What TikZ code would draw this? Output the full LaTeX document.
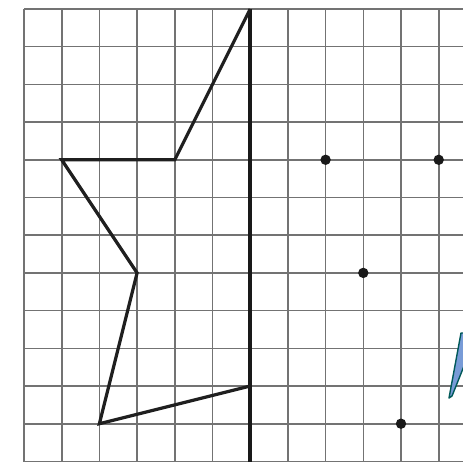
\documentclass[tikz,border=0pt]{standalone}
\begin{document}
\begin{tikzpicture}[x=1pt,y=-1pt,
  gridline/.style={draw=black!55,line width=1.6pt},
  axisline/.style={draw=black!90,line width=3.6pt},
  figline/.style={draw=black!88,line width=3.2pt,line join=miter},
  dotmark/.style={fill=black!90}]
\useasboundingbox (0,0) rectangle (463,462);
\fill[white] (0,0) rectangle (463,462);
\def\s{37.7}
% grid
\foreach \k in {0,...,11}{
  \draw[gridline] ({24+\k*\s},9) -- ({24+\k*\s},463);
}
\foreach \k in {0,...,12}{
  \draw[gridline] (24,{9+\k*\s}) -- (464,{9+\k*\s});
}
% named grid points
\foreach \c/\r/\n in {6/0/top,4/4/a,1/4/b,3/7/c,2/11/d,6/10/e,6/12.1/bot,8/4/p1,11/4/p2,9/7/p3,10/11/p4}{
  \coordinate (\n) at ({24+\c*\s},{9+\r*\s});
}
% axis of symmetry
\draw[axisline] (top) -- (bot);
% half figure
\draw[figline] (top) -- (a) -- (b) -- (c) -- (d) -- (e);
% points
\foreach \n in {p1,p2,p3,p4}{
  \fill[dotmark] (\n) circle (5.2);
}
% pencil tip at right edge
\filldraw[fill=cyan!45!blue!55,draw=teal!70!black,line width=1.4pt,line join=round]
  (449,398) -- (461,333) -- (464,333) -- (464,366) -- (452,396) -- cycle;
\end{tikzpicture}
\end{document}
